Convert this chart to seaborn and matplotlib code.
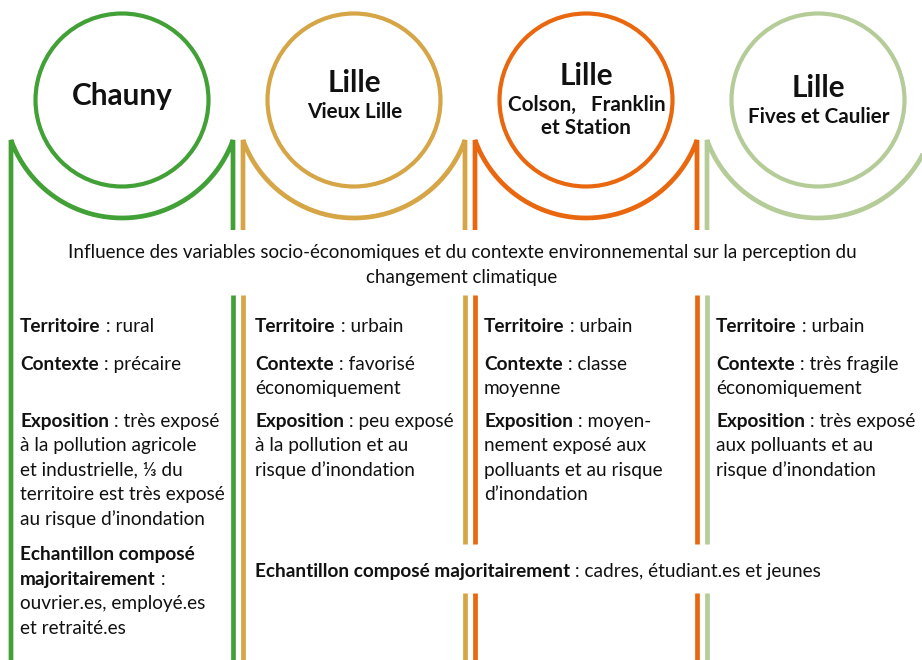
import re
import numpy as np
import matplotlib
matplotlib.use("Agg")
import matplotlib.pyplot as plt
from matplotlib.patches import Circle
import seaborn as sns

# ---------------- data ----------------
site_names = ["Chauny", "Lille", "Lille", "Lille"]
site_subtitles = ["", "Vieux Lille", "Colson,   Franklin\net Station", "Fives et Caulier"]
site_colors = ["#42A136", "#D6A546", "#E9680F", "#B5CC99"]

main_title = ("Influence des variables socio-économiques et du contexte environnemental sur la perception du\n"
              "changement climatique")

attr_labels = ["Territoire", "Contexte", "Exposition"]
territoire = ["rural", "urbain", "urbain", "urbain"]
contexte = ["précaire",
            "favorisé\néconomiquement",
            "classe\nmoyenne",
            "très fragile\néconomiquement"]
exposition = ["très exposé\nà la pollution agricole\net industrielle, ⅓ du\nterritoire est très exposé\nau risque d’inondation",
              "peu exposé\nà la pollution et au\nrisque d’inondation",
              "moyen-\nnement exposé aux\npolluants et au risque\nd’inondation",
              "très exposé\naux polluants et au\nrisque d’inondation"]
sample_label = "Echantillon composé majoritairement"
sample_chauny = "ouvrier.es, employé.es\net retraité.es"
sample_lille = "cadres, étudiant.es et jeunes"

# ---------------- layout ----------------
W, H = 922, 660
FONT = ["Lato", "DejaVu Sans"]
sns.set_theme(style="white")
plt.rcParams["font.family"] = FONT

fig = plt.figure(figsize=(W / 100, H / 100), dpi=100)
ax = fig.add_axes([0, 0, 1, 1])
ax.set_xlim(0, W)
ax.set_ylim(H, 0)
ax.set_axis_off()
renderer = fig.canvas.get_renderer()

col_cx = [122, 354, 586, 818]
cy = 100
r_circle = 86.5
r_arc = 118
half = 111
lw_line = 3.4
lw_circle = 3.0
gap_top, gap_bot = 230, 295
TXT = "#111111"


def text_width(s, size, weight="normal"):
    t = ax.text(0, 0, s, fontsize=size, fontweight=weight, family=FONT)
    w = t.get_window_extent(renderer).width
    t.remove()
    return w


def fit(s, weight, target):
    return 10 * target / text_width(s, 10, weight)


def rich_lines(s):
    lines = [[]]
    bold = False
    for tok in re.split(r"(\*\*)", s):
        if tok == "**":
            bold = not bold
            continue
        parts = tok.split("\n")
        for i, p in enumerate(parts):
            if i > 0:
                lines.append([])
            if p:
                lines[-1].append((p, bold))
    return lines


def draw_rich(x, y, s, size, lh):
    x_end = x
    for i, segs in enumerate(rich_lines(s)):
        cx = x
        for txt, b in segs:
            t = ax.text(cx, y + i * lh, txt, fontsize=size,
                        fontweight="bold" if b else "normal",
                        va="baseline", ha="left", family=FONT, color=TXT)
            cx += t.get_window_extent(renderer).width
        x_end = max(x_end, cx)
    return x_end


# font sizes fitted to reference widths
shared_text = f"**{sample_label}** : {sample_lille}"
w10 = text_width(sample_label, 10, "bold") + text_width(" : " + sample_lille, 10)
body_size = 10 * 568 / w10
title_size = fit(main_title.split("\n")[0], "normal", 792)
chauny_size = fit("Chauny", "bold", 101)
lille_size = fit("Lille", "bold", 54)
sub_size = fit("Fives et Caulier", "bold", 142)

# ---------------- texts ----------------
for k, line in enumerate(main_title.split("\n")):
    ax.text(462, 258 + 25 * k, line, fontsize=title_size, ha="center", va="baseline",
            family=FONT, color=TXT)

lh = 24.4
col_tx = [20, 255, 484, 716]
for i in range(4):
    x = col_tx[i]
    draw_rich(x, 332, f"**{attr_labels[0]}** : {territoire[i]}", body_size, lh)
    draw_rich(x, 370, f"**{attr_labels[1]}** : {contexte[i]}", body_size, lh)
    draw_rich(x, 427, f"**{attr_labels[2]}** : {exposition[i]}", body_size, lh)

chauny_label = sample_label.replace(" majoritairement", "\nmajoritairement")
draw_rich(col_tx[0], 560, f"**{chauny_label}** :\n{sample_chauny}", body_size, 24.7)
shared_x0 = col_tx[1]
shared_x1 = draw_rich(shared_x0, 577, shared_text, body_size, lh)

# ---------------- circles and connectors ----------------
title_baselines = [105, 92, 85, 97]
for i in range(4):
    cx = col_cx[i]
    col = site_colors[i]
    ax.add_patch(Circle((cx, cy), r_circle, fill=False, ec=col, lw=lw_circle))
    size = chauny_size if i == 0 else lille_size
    ax.text(cx, title_baselines[i], site_names[i], fontsize=size, fontweight="bold",
            ha="center", va="baseline", family=FONT, color=TXT)
    if site_subtitles[i]:
        for k, line in enumerate(site_subtitles[i].split("\n")):
            ax.text(cx + (1 if k == 0 else 0), title_baselines[i] + 26 + 23.5 * k, line,
                    fontsize=sub_size, fontweight="bold", ha="center", va="baseline",
                    family=FONT, color=TXT)

    L, R = cx - half, cx + half
    alpha = np.arccos(half / r_arc)
    th = np.linspace(np.pi - alpha, alpha, 200)
    ax_x = cx + r_arc * np.cos(th)
    ax_y = cy + r_arc * np.sin(th)
    y_start = H + 5 if i == 0 else gap_top
    xs = np.concatenate([[L], ax_x, [R]])
    ys = np.concatenate([[y_start], ax_y, [gap_top]])
    ax.plot(xs, ys, color=col, lw=lw_line, solid_joinstyle="miter", solid_capstyle="butt")

    # lower vertical segments
    for k, xv in enumerate((L, R)):
        if i == 0 and k == 0:
            continue
        if shared_x0 < xv < shared_x1:
            segs = [(gap_bot, 544), (593, H + 5)]
        else:
            segs = [(gap_bot, H + 5)]
        for y0, y1 in segs:
            ax.plot([xv, xv], [y0, y1], color=col, lw=lw_line, solid_capstyle="butt")

fig.savefig("out.png", dpi=100, facecolor="white")
